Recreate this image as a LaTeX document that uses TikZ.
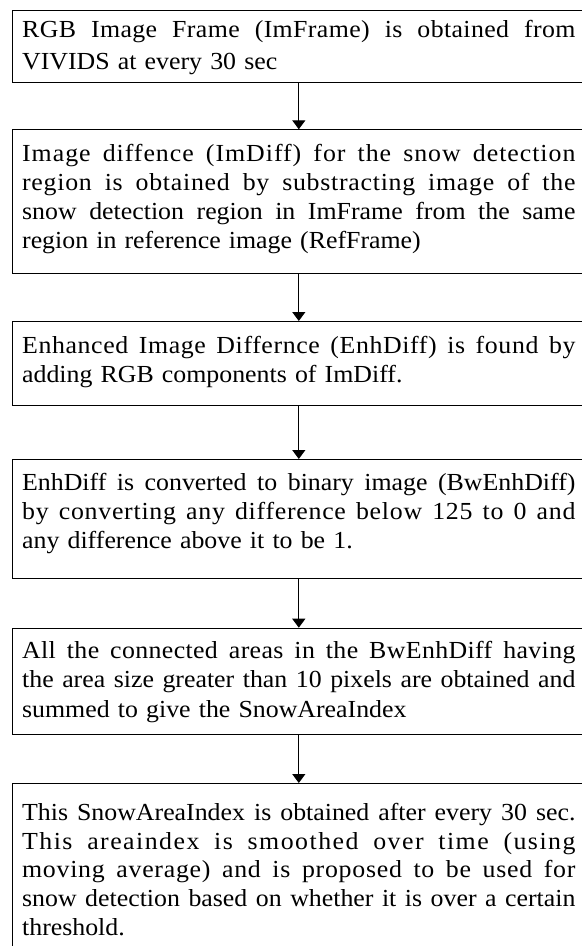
\documentclass[tikz,border=0pt]{standalone}
\usepackage{fontspec}
\setmainfont[FakeStretch=1.055]{Liberation Serif}
\usetikzlibrary{arrows.meta}
\setlength\parindent{0pt}
\newcommand\jl[2][0]{\leavevmode\hbox to 553.3bp{\addfontfeatures{LetterSpace=#1}\frenchspacing\spaceskip=0.25em plus 1fil minus 0.1em\relax #2}}
\newcommand\topst[1]{\rule{0pt}{#1}}
\newcommand\botst[1]{\rule[-#1]{0pt}{#1}}
\begin{document}
\begin{tikzpicture}[x=1bp,y=-1bp,
  stepbox/.style={draw=black, line width=0.9bp, anchor=north west, inner xsep=10bp, inner ysep=0pt, text width=553.3bp, align=left},
  conn/.style={line width=1.2bp, -{Triangle[width=13bp,length=9bp]}}]
\useasboundingbox (0,0) rectangle (582,946);
\clip (0,0) rectangle (582,946);
\node[stepbox, font=\fontsize{24.5bp}{32bp}\selectfont] (b1) at (11.7,9.7)
  {\topst{27bp}\jl[1.5]{RGB Image Frame (ImFrame) is obtained from}\\
   VIVIDS at every 30 sec\botst{13bp}};
\node[stepbox, font=\fontsize{24.5bp}{29.1bp}\selectfont] (b2) at (11.7,129.3)
  {\topst{31.4bp}\jl[4]{Image diffence (ImDiff) for the snow detection}\\
   \jl[3]{region is obtained by substracting image of the}\\
   \jl{snow detection region in ImFrame from the same}\\
   region in reference image (RefFrame)\botst{25bp}};
\node[stepbox, font=\fontsize{24.5bp}{29bp}\selectfont] (b3) at (11.7,321)
  {\topst{32.3bp}\jl[2.5]{Enhanced Image Differnce (EnhDiff) is found by}\\
   adding RGB components of ImDiff.\botst{22.7bp}};
\node[stepbox, font=\fontsize{24.5bp}{29.15bp}\selectfont] (b4) at (11.7,459)
  {\topst{31bp}\jl{EnhDiff is converted to binary image (BwEnhDiff)}\\
   \jl[3]{by converting any difference below 125 to 0 and}\\
   any difference above it to be 1.\botst{30bp}};
\node[stepbox, font=\fontsize{24.5bp}{29.2bp}\selectfont] (b5) at (11.7,627.7)
  {\topst{30.6bp}\jl[1.5]{All the connected areas in the BwEnhDiff having}\\
   \jl{the area size greater than 10 pixels are obtained and}\\
   summed to give the SnowAreaIndex\botst{17.6bp}};
\node[stepbox, font=\fontsize{24.5bp}{28.75bp}\selectfont] (b6) at (11.7,783)
  {\topst{37bp}\jl{This SnowAreaIndex is obtained after every 30 sec.}\\
   \jl[6]{This areaindex is smoothed over time (using}\\
   \jl[3]{moving average) and is proposed to be used for}\\
   \jl{snow detection based on whether it is over a certain}\\
   threshold.\botst{30bp}};
\draw[conn] (b1.south) -- (b2.north);
\draw[conn] (b2.south) -- (b3.north);
\draw[conn] (b3.south) -- (b4.north);
\draw[conn] (b4.south) -- (b5.north);
\draw[conn] (b5.south) -- (b6.north);
\end{tikzpicture}
\end{document}
